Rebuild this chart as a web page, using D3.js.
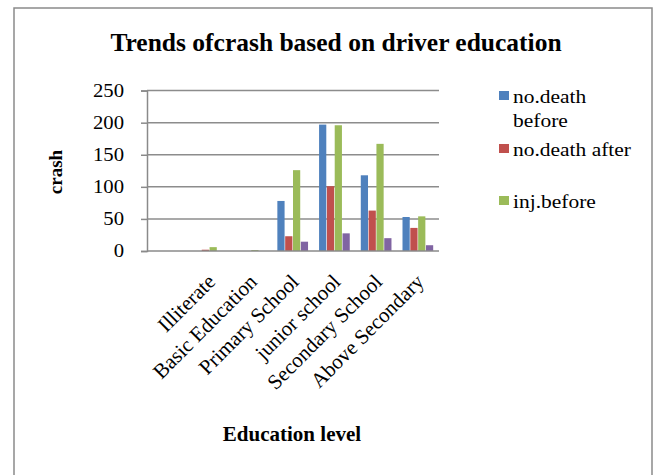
<!DOCTYPE html>
<html>
<head>
<meta charset="utf-8">
<script src="https://cdn.jsdelivr.net/npm/d3@7"></script>
<style>
  body { margin: 0; background: #fff; }
  text { font-family: "Liberation Serif", "Times New Roman", Times, serif; fill: #000; }
</style>
</head>
<body>
<div id="container"></div>
<script>
// chart values
const categories = ["", "Illiterate", "Basic Education", "Primary School", "junior school", "Secondary School", "Above Secondary"];
const seriesNames = ["no.death before", "no.death after", "inj.before", "inj.after"];
const noDeathBefore = [0, 0, 0, 78, 197, 118, 53];
const noDeathAfter = [0, 2, 0, 23, 101, 63, 36];
const injBefore = [0, 6, 1.5, 126, 196, 167, 54];
const injAfter = [0, 0, 0, 14.5, 27.5, 20, 9];
const yTicks = [0, 50, 100, 150, 200, 250];
const colors = ["#4F81BD", "#C0504D", "#9BBB59", "#8064A2"];

const width = 657, height = 475;
const margin = { top: 90.6, bottom: 224, left: 147, right: 218 };

const seriesValues = [noDeathBefore, noDeathAfter, injBefore, injAfter];
const rows = categories.map((c, i) => ({
  cat: c,
  vals: seriesValues.map((s, k) => ({ key: seriesNames[k], k: k, v: s[i] }))
}));

const svg = d3.select("#container").append("svg")
  .attr("width", width).attr("height", height);

// outer frame
svg.append("rect")
  .attr("x", 14).attr("y", 8)
  .attr("width", 638).attr("height", 480)
  .attr("fill", "none").attr("stroke", "#8a8a8a").attr("stroke-width", 1.5);

const x = d3.scaleBand()
  .domain(categories)
  .range([margin.left, width - margin.right])
  .paddingInner(0.25).paddingOuter(0.125);

const xs = d3.scaleBand()
  .domain(d3.range(seriesNames.length))
  .range([0, x.bandwidth()]);

const y = d3.scaleLinear()
  .domain([0, 250])
  .range([height - margin.bottom, margin.top]);

// gridlines
svg.append("g")
  .selectAll("line")
  .data(yTicks.filter(d => d > 0))
  .join("line")
  .attr("x1", margin.left).attr("x2", width - margin.right)
  .attr("y1", d => y(d)).attr("y2", d => y(d))
  .attr("stroke", "#8c8c8c").attr("stroke-width", 1.5);

// bars
svg.append("g")
  .selectAll("g")
  .data(rows)
  .join("g")
  .attr("transform", d => `translate(${x(d.cat)},0)`)
  .selectAll("rect")
  .data(d => d.vals)
  .join("rect")
  .attr("x", d => xs(d.k))
  .attr("width", xs.bandwidth() - 0.6)
  .attr("y", d => y(d.v))
  .attr("height", d => y(0) - y(d.v))
  .attr("fill", d => colors[d.k]);

// y axis
const yAxis = svg.append("g")
  .attr("transform", `translate(${margin.left},0)`)
  .call(d3.axisLeft(y).tickValues(yTicks).tickSize(6).tickFormat(""));
yAxis.select(".domain").attr("stroke", "#8a8a8a").attr("stroke-width", 1.5);
yAxis.selectAll(".tick line").attr("stroke", "#8a8a8a").attr("stroke-width", 1.5);

svg.append("g")
  .selectAll("text")
  .data(yTicks)
  .join("text")
  .attr("transform", d => `translate(124,${y(d) + 6}) scale(1.15,1)`)
  .attr("text-anchor", "end")
  .attr("font-size", 18)
  .text(d => d);

// x axis line
svg.append("line")
  .attr("x1", margin.left).attr("x2", width - margin.right)
  .attr("y1", y(0)).attr("y2", y(0))
  .attr("stroke", "#8a8a8a").attr("stroke-width", 1.5);

// category labels
svg.append("g")
  .selectAll("text")
  .data(categories)
  .join("text")
  .attr("transform", d => `translate(${x(d) + x.bandwidth() / 2 + 7},283) rotate(-45)`)
  .attr("text-anchor", "end")
  .attr("font-size", 21)
  .text(d => d);

// titles
svg.append("text")
  .attr("x", 336).attr("y", 51)
  .attr("text-anchor", "middle")
  .attr("font-size", 25.5).attr("font-weight", "bold")
  .text("Trends ofcrash based on driver education");

svg.append("text")
  .attr("x", 292).attr("y", 441)
  .attr("text-anchor", "middle")
  .attr("font-size", 21).attr("font-weight", "bold")
  .text("Education level");

svg.append("text")
  .attr("transform", "translate(62,172) rotate(-90)")
  .attr("text-anchor", "middle")
  .attr("font-size", 19).attr("font-weight", "bold")
  .text("crash");

// legend (only three entries fit in the original)
const legendY = [91, 144, 196];
const legendLines = [["no.death", "before"], ["no.death after"], ["inj.before"]];
const legend = svg.append("g")
  .selectAll("g")
  .data(legendLines)
  .join("g")
  .attr("transform", (d, i) => `translate(499,${legendY[i]})`);

legend.append("rect")
  .attr("width", 10).attr("height", 9)
  .attr("fill", (d, i) => colors[i]);

legend.selectAll("text")
  .data(d => d)
  .join("text")
  .attr("transform", (d, j) => `translate(14,${12 + j * 24}) scale(1.13,1)`)
  .attr("font-size", 19)
  .text(d => d);
</script>
</body>
</html>
